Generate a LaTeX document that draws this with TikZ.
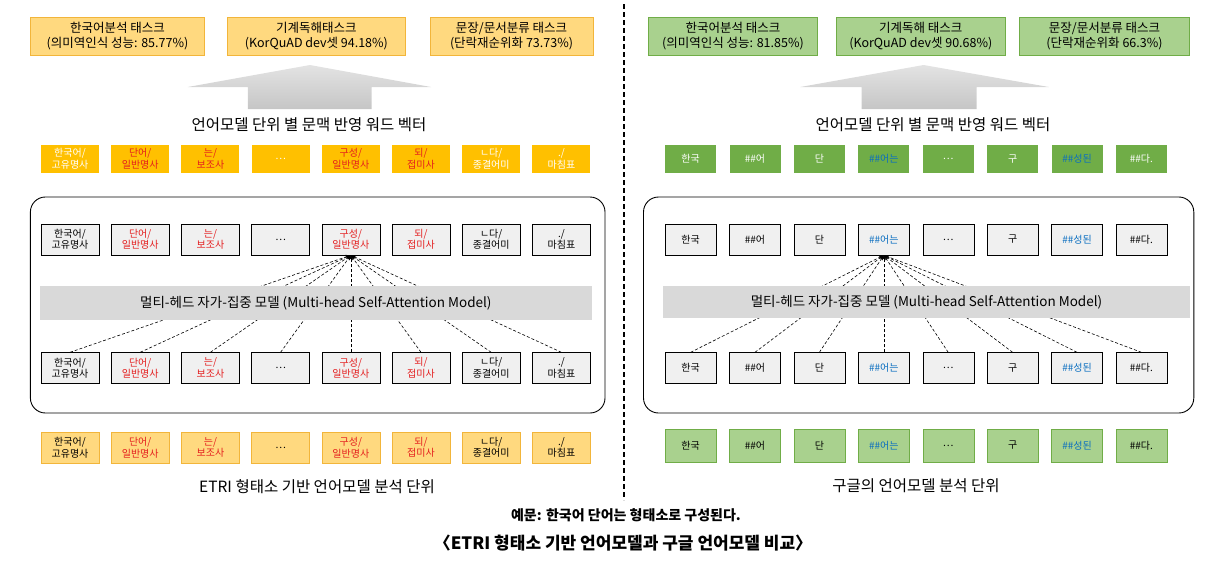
\documentclass[tikz,border=0pt]{standalone}
\usepackage{fontspec}
\setmainfont{Noto Sans CJK KR}
\usetikzlibrary{arrows.meta}

\definecolor{etriLight}{HTML}{FFD97F}
\definecolor{etriLine}{HTML}{F2B53A}
\definecolor{etriSolid}{HTML}{FFC000}
\definecolor{googLight}{HTML}{A9D18E}
\definecolor{googLine}{HTML}{70AD47}
\definecolor{googSolid}{HTML}{70AD47}
\definecolor{hiRed}{HTML}{E41E1E}
\definecolor{hiBlue}{HTML}{0B6FC0}
\definecolor{cellGray}{HTML}{F0F0F0}
\definecolor{barGray}{HTML}{D9D9D9}

\tikzset{
  cell/.style={inner sep=0, align=center, minimum height=31,
    font=\fontsize{10}{11.5}\selectfont},
  etritask/.style={draw=etriLine, fill=etriLight, minimum height=38, inner sep=0,
    align=center, font=\fontsize{12.5}{15.5}\selectfont},
  googtask/.style={etritask, draw=googLine, fill=googLight},
  etrivec/.style={cell, fill=etriSolid, text=white, minimum width=58, minimum height=28},
  googvec/.style={cell, fill=googSolid, text=white, minimum width=51, minimum height=28},
  etriin/.style={cell, draw=black, fill=cellGray, minimum width=58},
  googin/.style={cell, draw=black, fill=cellGray, minimum width=51},
  etriout/.style={cell, draw=etriLine, fill=etriLight, minimum width=58},
  googout/.style={cell, draw=googLine, fill=googLight, minimum width=51, minimum height=33},
  red/.style={text=hiRed},
  blu/.style={text=hiBlue},
  attnbar/.style={fill=barGray, inner sep=0, minimum height=34,
    font=\fontsize{13.5}{15}\selectfont},
  attn/.style={dashed, dash pattern=on 3pt off 2pt, -{Stealth[length=5pt,width=4pt]}, line width=0.6pt},
  panel/.style={draw=black, line width=0.9pt, rounded corners=15},
  bigarrow/.style={top color=gray!22, bottom color=gray!45},
  caption/.style={font=\fontsize{15.5}{17}\selectfont}
}

\begin{document}
\begin{tikzpicture}[x=1pt, y=-1pt]
\useasboundingbox (0,0) rectangle (1215,565);

% separator between the two models
\draw [ dashed, dash pattern=on 5pt off 3pt, line width=1.6pt] (624,4)--(624,500);

%%%%%%%%%%%%%%%%%%%%%%%%%%%%%%%%%%%%%%%%%%%%%%%%%
% ETRI  (left half)

  % tasks
\node [etritask, minimum width=174] (L-task-1) at (117.4,36) {한국어분석 태스크\\(의미역인식 성능: 85.77\%)};
\node [etritask, minimum width=178] (L-task-2) at (316.4,36) {기계독해태스크\\(KorQuAD dev셋 94.18\%)};
\node [etritask, minimum width=163] (L-task-3) at (511.5,36) {문장/문서분류 태스크\\(단락재순위화 73.73\%)};

  % big arrow
\shade [bigarrow] (187.8,87)--(310,65)--(431,87)--(371.7,87)--(371.7,109)--(247.9,109)--(247.9,87)--cycle;
\node [caption] (L-vec-title) at (309,125) {언어모델 단위 별 문맥 반영 워드 벡터};

  % word vectors
\node [etrivec] (L-vec-1) at (70,159) {한국어/\\고유명사};
\node [etrivec, red] (L-vec-2) at (140.2,159) {단어/\\일반명사};
\node [etrivec, red] (L-vec-3) at (210.4,159) {는/\\보조사};
\node [etrivec] (L-vec-4) at (280.6,159) {…};
\node [etrivec, red] (L-vec-5) at (350.8,159) {구성/\\일반명사};
\node [etrivec, red] (L-vec-6) at (421,159) {되/\\접미사};
\node [etrivec] (L-vec-7) at (491.2,159) {ㄴ다/\\종결어미};
\node [etrivec] (L-vec-8) at (561.4,159) {./\\마침표};

  % model box
\draw [panel] (30.4,197) rectangle (605,413);

\node [etriin] (L-top-1) at (70,239.5) {한국어/\\고유명사};
\node [etriin, red] (L-top-2) at (140.2,239.5) {단어/\\일반명사};
\node [etriin, red] (L-top-3) at (210.4,239.5) {는/\\보조사};
\node [etriin] (L-top-4) at (280.6,239.5) {…};
\node [etriin, red] (L-top-5) at (350.8,239.5) {구성/\\일반명사};
\node [etriin, red] (L-top-6) at (421,239.5) {되/\\접미사};
\node [etriin] (L-top-7) at (491.2,239.5) {ㄴ다/\\종결어미};
\node [etriin] (L-top-8) at (561.4,239.5) {./\\마침표};

\node [etriin] (L-bot-1) at (70,368) {한국어/\\고유명사};
\node [etriin, red] (L-bot-2) at (140.2,368) {단어/\\일반명사};
\node [etriin, red] (L-bot-3) at (210.4,368) {는/\\보조사};
\node [etriin] (L-bot-4) at (280.6,368) {…};
\node [etriin, red] (L-bot-5) at (350.8,368) {구성/\\일반명사};
\node [etriin, red] (L-bot-6) at (421,368) {되/\\접미사};
\node [etriin] (L-bot-7) at (491.2,368) {ㄴ다/\\종결어미};
\node [etriin] (L-bot-8) at (561.4,368) {./\\마침표};

  % attention to 구성
\draw [attn] (L-bot-1.north)--(L-top-5.south);
\draw [attn] (L-bot-2.north)--(L-top-5.south);
\draw [attn] (L-bot-3.north)--(L-top-5.south);
\draw [attn] (L-bot-4.north)--(L-top-5.south);
\draw [attn] (L-bot-5.north)--(L-top-5.south);
\draw [attn] (L-bot-6.north)--(L-top-5.south);
\draw [attn] (L-bot-7.north)--(L-top-5.south);
\draw [attn] (L-bot-8.north)--(L-top-5.south);

\node [attnbar, minimum width=552.5] (L-bar) at (315.8,303) {멀티-헤드 자가-집중 모델 (Multi-head Self-Attention Model)};

  % analysis units
\node [etriout] (L-out-1) at (70,447.5) {한국어/\\고유명사};
\node [etriout, red] (L-out-2) at (140.2,447.5) {단어/\\일반명사};
\node [etriout, red] (L-out-3) at (210.4,447.5) {는/\\보조사};
\node [etriout] (L-out-4) at (280.6,447.5) {…};
\node [etriout, red] (L-out-5) at (350.8,447.5) {구성/\\일반명사};
\node [etriout, red] (L-out-6) at (421,447.5) {되/\\접미사};
\node [etriout] (L-out-7) at (491.2,447.5) {ㄴ다/\\종결어미};
\node [etriout] (L-out-8) at (561.4,447.5) {./\\마침표};

\node [caption] (L-caption) at (317,487) {ETRI 형태소 기반 언어모델 분석 단위};

%%%%%%%%%%%%%%%%%%%%%%%%%%%%%%%%%%%%%%%%%%%%%%%%%
% Google  (right half)

  % tasks
\node [googtask, minimum width=169] (G-task-1) at (732.9,36) {한국어분석 태스크\\(의미역인식 성능: 81.85\%)};
\node [googtask, minimum width=169] (G-task-2) at (920.8,36) {기계독해 태스크\\(KorQuAD dev셋 90.68\%)};
\node [googtask, minimum width=170] (G-task-3) at (1104.5,36) {문장/문서분류 태스크\\(단락재순위화 66.3\%)};

  % big arrow
\shade [bigarrow] (800.3,87)--(923.6,65)--(1048.8,87)--(976.7,87)--(976.7,109)--(861.7,109)--(861.7,87)--cycle;
\node [caption] (G-vec-title) at (933,125) {언어모델 단위 별 문맥 반영 워드 벡터};

  % word vectors
\node [googvec] (G-vec-1) at (690.6,159) {한국};
\node [googvec] (G-vec-2) at (755,159) {\#\#어};
\node [googvec] (G-vec-3) at (819.4,159) {단};
\node [googvec, blu] (G-vec-4) at (883.8,159) {\#\#어는};
\node [googvec] (G-vec-5) at (948.2,159) {…};
\node [googvec] (G-vec-6) at (1012.6,159) {구};
\node [googvec, blu] (G-vec-7) at (1077,159) {\#\#성된};
\node [googvec] (G-vec-8) at (1141.4,159) {\#\#다.};

  % model box
\draw [panel] (643.5,197) rectangle (1193.8,413);

\node [googin] (G-top-1) at (690.6,239.5) {한국};
\node [googin] (G-top-2) at (755,239.5) {\#\#어};
\node [googin] (G-top-3) at (819.4,239.5) {단};
\node [googin, blu] (G-top-4) at (883.8,239.5) {\#\#어는};
\node [googin] (G-top-5) at (948.2,239.5) {…};
\node [googin] (G-top-6) at (1012.6,239.5) {구};
\node [googin, blu] (G-top-7) at (1077,239.5) {\#\#성된};
\node [googin] (G-top-8) at (1141.4,239.5) {\#\#다.};

\node [googin] (G-bot-1) at (690.6,368) {한국};
\node [googin] (G-bot-2) at (755,368) {\#\#어};
\node [googin] (G-bot-3) at (819.4,368) {단};
\node [googin, blu] (G-bot-4) at (883.8,368) {\#\#어는};
\node [googin] (G-bot-5) at (948.2,368) {…};
\node [googin] (G-bot-6) at (1012.6,368) {구};
\node [googin, blu] (G-bot-7) at (1077,368) {\#\#성된};
\node [googin] (G-bot-8) at (1141.4,368) {\#\#다.};

  % attention to ##어는
\draw [attn] (G-bot-1.north)--(G-top-4.south);
\draw [attn] (G-bot-2.north)--(G-top-4.south);
\draw [attn] (G-bot-3.north)--(G-top-4.south);
\draw [attn] (G-bot-4.north)--(G-top-4.south);
\draw [attn] (G-bot-5.north)--(G-top-4.south);
\draw [attn] (G-bot-6.north)--(G-top-4.south);
\draw [attn] (G-bot-7.north)--(G-top-4.south);
\draw [attn] (G-bot-8.north)--(G-top-4.south);

\node [attnbar, minimum width=527, minimum height=32] (G-bar) at (926.5,302) {멀티-헤드 자가-집중 모델 (Multi-head Self-Attention Model)};

  % analysis units
\node [googout] (G-out-1) at (690.6,445.5) {한국};
\node [googout] (G-out-2) at (755,445.5) {\#\#어};
\node [googout] (G-out-3) at (819.4,445.5) {단};
\node [googout, blu] (G-out-4) at (883.8,445.5) {\#\#어는};
\node [googout] (G-out-5) at (948.2,445.5) {…};
\node [googout] (G-out-6) at (1012.6,445.5) {구};
\node [googout, blu] (G-out-7) at (1077,445.5) {\#\#성된};
\node [googout] (G-out-8) at (1141.4,445.5) {\#\#다.};

\node [caption] (G-caption) at (916,486) {구글의 언어모델 분석 단위};

%%%%%%%%%%%%%%%%%%%%%%%%%%%%%%%%%%%%%%%%%%%%%%%%%
% example sentence and title

\node [font=\bfseries\fontsize{14}{16}\selectfont] (example) at (626,515) {예문: 한국어 단어는 형태소로 구성된다.};
\node [font=\bfseries\fontsize{17}{19}\selectfont] (title) at (623,543) {〈ETRI 형태소 기반 언어모델과 구글 언어모델 비교〉};

\end{tikzpicture}
\end{document}
